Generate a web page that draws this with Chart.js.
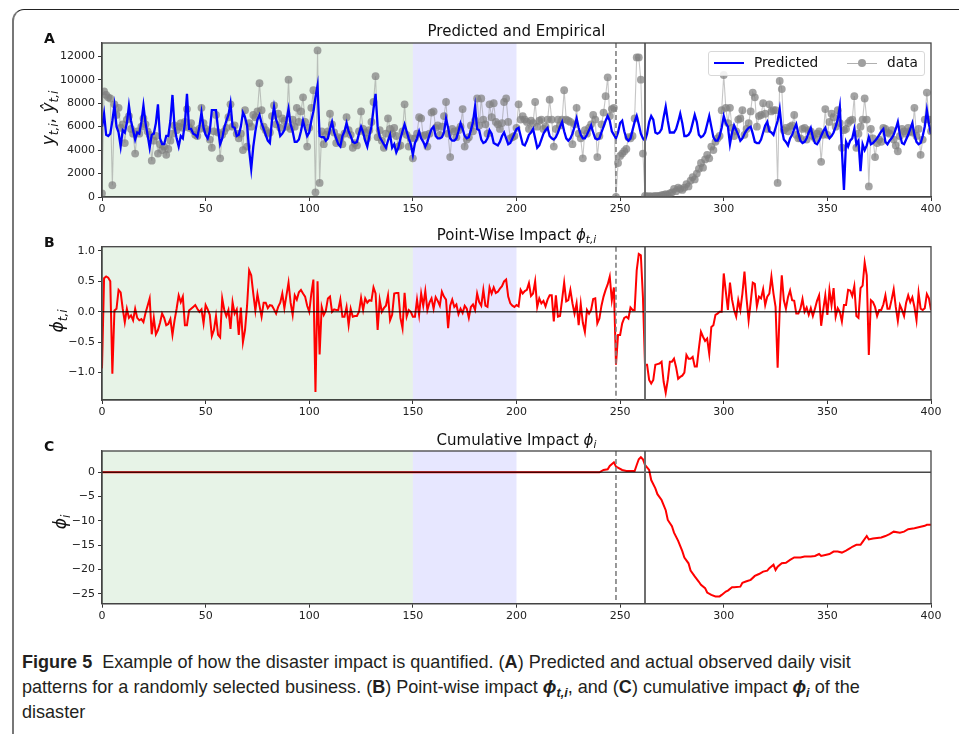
<!DOCTYPE html>
<html>
<head>
<meta charset="utf-8">
<script src="https://cdn.jsdelivr.net/npm/chart.js@4.4.0/dist/chart.umd.min.js"></script>
<style>
body{margin:0;background:#fff;width:959px;height:734px;overflow:hidden;position:relative;font-family:"DejaVu Sans",sans-serif;color:#111;}
.frame{position:absolute;left:12px;top:9px;width:1000px;height:760px;border-top:1.5px solid #222;border-left:2px solid #777;border-top-left-radius:12px;border-bottom-left-radius:12px;}
canvas{position:absolute;left:0;}
.ttl{position:absolute;left:102px;width:829px;text-align:center;font-size:15px;line-height:18px;white-space:nowrap;}
.lab{position:absolute;left:44px;font-weight:bold;font-size:14px;line-height:14px;}
.ylab{position:absolute;transform:translate(-50%,-50%) rotate(-90deg);font-size:17px;white-space:nowrap;line-height:20px;}
sub{font-size:70%;vertical-align:-0.3em;line-height:0;}
#legend{position:absolute;left:708px;top:51px;width:215px;height:23px;border:1px solid #d8d8d8;border-radius:3px;background:rgba(255,255,255,0.85);font-size:13.7px;}
#legend span{position:absolute;}
#caption{position:absolute;left:22px;top:649px;font-family:"Liberation Sans",sans-serif;font-size:19px;line-height:25px;color:#231f20;white-space:nowrap;transform-origin:0 0;}
#caption div{display:block;}
</style>
</head>
<body>
<div class="frame"></div>
<canvas id="chartA" width="959" height="225" style="top:0"></canvas>
<canvas id="chartB" width="959" height="200" style="top:225px"></canvas>
<canvas id="chartC" width="959" height="205" style="top:425px"></canvas>

<div class="ttl" style="top:22px">Predicted and Empirical</div>
<div class="ttl" style="top:226px">Point-Wise Impact <i>ϕ</i><sub><i>t,i</i></sub></div>
<div class="ttl" style="top:431px">Cumulative Impact <i>ϕ</i><sub><i>i</i></sub></div>
<div class="lab" style="top:31px">A</div>
<div class="lab" style="top:235px">B</div>
<div class="lab" style="top:439px">C</div>
<div class="ylab" style="left:48px;top:118px"><i>y</i><sub><i>t,i</i></sub>, <i>ŷ</i><sub><i>t,i</i></sub></div>
<div class="ylab" style="left:57px;top:321px"><i>ϕ</i><sub><i>t,i</i></sub></div>
<div class="ylab" style="left:60px;top:522px"><i>ϕ</i><sub><i>i</i></sub></div>

<div id="legend">
  <span style="left:5px;top:10px;width:30px;height:2px;background:#0000ff"></span>
  <span style="left:45px;top:2px">Predicted</span>
  <span style="left:138px;top:10.5px;width:30px;height:1px;background:#b0b0b0"></span>
  <span style="left:149px;top:7px;width:8px;height:8px;border-radius:50%;background:#a0a0a0"></span>
  <span style="left:178px;top:2px">data</span>
</div>

<div id="caption">
  <div id="capLine1"><b>Figure 5</b>&nbsp; Example of how the disaster impact is quantified. (<b>A</b>) Predicted and actual observed daily visit</div>
  <div>patterns for a randomly selected business. (<b>B</b>) Point-wise impact <b><i>ϕ</i><sub><i>t,i</i></sub></b>, and (<b>C</b>) cumulative impact <b><i>ϕ</i><sub><i>i</i></sub></b> of the</div>
  <div>disaster</div>
</div>

<script>
// predicted daily visits, one row per week (days 0..400)
const predicted = [
  6000,7100,5300,5200,5400,6500,7800,
  6000,5500,4300,5700,5500,6300,7800,
  6500,5700,4900,5500,5400,6400,7800,
  6300,5300,4200,5300,5400,6300,7900,
  5000,4500,4500,5200,5200,6500,8700,
  6000,5000,4300,5200,5000,6300,8800,
  5800,5800,5400,5300,5100,6000,7200,
  5900,5300,5000,5600,7400,7400,7400,
  5800,4500,5000,5900,6500,7000,8000,
  6000,5900,5200,5300,6000,7200,6800,
  6100,4000,2400,4300,5600,6600,7000,
  6300,5800,5300,4800,4600,6500,7700,
  6600,6100,5200,5400,5700,6500,7500,
  6200,5600,4700,4700,4900,5600,6500,
  5800,5200,5500,6500,7300,8500,9500,
  5200,5100,5100,4800,5000,5800,6400,
  5500,5000,4500,4300,5200,5600,6300,
  5600,5200,4700,4600,4700,5400,6000,
  5500,4800,4300,5200,6000,7500,8800,
  6000,5100,4800,4500,4200,4800,5300,
  4200,4500,3800,4200,5000,5600,6200,
  5600,5000,4500,3600,4600,5000,5600,
  5000,4700,4300,4700,5300,5800,6000,
  5200,5000,5000,5100,5500,6700,5900,
  5000,4800,4800,5000,5600,6300,5800,
  5200,5000,5100,5700,6400,7700,5800,
  5700,4900,4600,4700,5000,5700,5400,
  4600,4500,4400,4700,5200,5500,5000,
  4500,4600,5000,5400,5800,5900,5200,
  4500,4400,4800,5300,5500,5800,5000,
  4200,4400,4900,5400,5700,5900,5200,
  5000,4900,5100,5500,6000,6400,5600,
  5000,4800,5000,5400,6000,6700,5900,
  5300,5000,5000,5300,5700,6100,5500,
  5000,4900,5000,5500,6000,6500,6900,
  6500,5600,5300,5000,5500,6300,6500,
  5600,5000,4800,5000,5700,6400,6900,
  6200,5400,5000,4800,5400,6400,6900,
  6600,5500,5400,5500,5800,6800,7700,
  6500,5500,5500,5500,5800,6400,7100,
  6300,5200,5200,5300,5600,6300,7000,
  6400,5300,5100,5200,5500,6200,6900,
  6000,5100,4800,4800,5200,5900,6900,
  6300,6000,4500,5500,6100,5700,5300,
  4800,5000,5400,5700,5900,6000,5400,
  4700,4600,4600,4900,5500,6100,6400,
  5600,5500,5300,5900,6500,7500,5800,
  4900,4700,4400,5000,5300,5800,6200,
  5400,4800,4600,4700,5000,5500,5900,
  5100,4600,4500,4800,5200,5600,5900,
  5300,5000,5200,5500,6000,6600,7700,
  4000,600,4700,4300,4800,5000,5800,
  4500,4800,2200,4500,4000,4400,5100,
  4500,4600,4800,5000,5300,5600,5800,
  4700,4500,4800,5000,5300,5800,6400,
  5300,4600,4500,4900,5300,5800,6300,
  5300,4700,4500,4600,5200,6000,7400,
  6200,5400
];

// observed daily visits (data)
const observed = [
  300,9000,8700,8500,8400,1000,7900,
  7000,7600,5900,6200,4600,6600,6900,
  5800,5400,3700,5600,5400,6000,6700,
  6200,5600,5300,3100,4800,5200,3700,
  4500,4000,4300,3600,4100,4800,5400,
  6100,5700,6000,6300,5900,6400,7500,
  5900,6300,5700,5300,5200,5800,7600,
  6300,5800,5600,4900,4200,5600,7000,
  5500,3300,5300,5600,5900,6800,7900,
  6000,6100,5400,5000,5400,4000,7400,
  4300,6300,6000,7000,6800,7300,9700,
  7400,6000,5700,5400,5500,6900,7800,
  6200,7100,5900,6700,6500,6000,10000,
  5800,6600,6000,7600,6400,7300,8500,
  6400,4300,5900,7600,9100,400,12500,
  1200,5600,4500,5300,5600,7100,6200,
  5500,4600,5100,5000,4500,5400,6800,
  5700,5300,4200,4600,4400,5600,7300,
  5800,5500,5000,5700,6400,8100,10300,
  5100,5700,4800,4200,5400,6700,5800,
  5400,5900,5200,4300,4400,5600,7900,
  5300,4300,5000,3300,5000,5400,6800,
  6700,5200,5300,4300,5400,7200,7300,
  5900,6100,5300,6000,6900,8100,5400,
  3400,5800,5600,5100,5700,6000,7500,
  4300,4900,5100,6100,5600,6500,8400,
  6100,8400,6600,6200,5400,7900,6800,
  8000,6400,6200,5800,6300,8100,8400,
  6400,5000,5100,5200,5900,7900,6600,
  6900,6600,6400,5800,6500,6300,8100,
  6000,6500,6600,5800,6000,6600,8300,
  6600,4300,5800,6600,6100,6600,9100,
  6600,6500,6400,4500,6200,7600,5400,
  5000,3300,5700,5400,5900,6200,7000,
  6600,3400,5200,6200,7200,8600,10200,
  6900,7500,7600,0,2900,3500,3700,
  3900,4100,5100,5000,5200,6700,11900,
  11900,10000,3700,100,50,80,60,
  50,100,80,100,150,170,250,
  200,300,400,680,500,800,700,
  600,800,1100,900,1400,1700,1500,
  2000,2400,2900,2500,3200,3600,3300,
  4300,4000,4700,5000,5200,7400,10400,
  7600,6300,7600,5900,5200,5600,6600,
  6700,7400,5300,5800,6300,7300,8900,
  8500,6000,6900,7000,8000,7100,5800,
  7900,7300,7400,7400,1200,9900,9200,
  5700,5900,5600,6000,6100,7000,5300,
  5000,5000,5800,5900,4900,5700,5600,
  5200,5000,5400,5600,3000,5300,7500,
  5300,6400,7100,6800,6000,7400,6300,
  4200,5700,5800,6300,6500,6600,8600,
  4200,5400,6000,6600,8400,6600,900,
  5800,5000,3400,4600,4900,4700,5900,
  5800,5500,5400,5700,4900,4400,3900,
  5200,5800,5600,5400,5900,5600,5500,
  7600,5200,5800,3600,4900,6600,8900,
  6600,5600
];

// point-wise impact phi_{t,i}
const impact = [
  -0.93,0.55,0.58,0.56,0.5,-1.02,0.02,
  0.05,0.36,0.32,0.05,-0.17,0.05,-0.1,
  -0.06,-0.14,0.05,-0.1,-0.14,-0.12,-0.17,
  -0.02,0.1,0.22,-0.37,-0.1,-0.37,-0.3,
  -0.18,-0.03,-0.1,-0.22,-0.2,-0.12,-0.38,
  -0.14,0.05,0.27,0.16,0.25,-0.22,-0.22,
  0.02,0.05,0.08,0.11,0.05,0,0.04,
  -0.19,0.11,0.04,-0.05,-0.4,-0.3,-0.07,
  -0.38,-0.42,0.22,0.03,-0.07,0.03,-0.28,
  0.16,-0.03,0.04,-0.38,0.07,-0.5,-0.3,
  0.1,0.68,0.6,0.3,0.02,0.29,0.1,
  -0.08,0.15,0.15,0.06,0.11,0.1,0.04,
  -0.03,0.08,0.15,0.3,0.06,0.27,0.48,
  0.15,-0.05,0.27,0.2,0.32,0.36,0.3,
  0.25,0.1,0,0.3,0.53,-1.32,0.5,
  -0.7,0.08,-0.05,0.02,0.22,0.25,0,
  0.04,0.03,0.03,0.2,-0.08,-0.08,0.08,
  -0.22,0.05,-0.08,-0.07,-0.07,0,0.23,
  0.03,0.22,0.15,0.19,0.18,0.4,0.3,
  -0.3,0.19,0,0.06,0.1,0.27,-0.14,
  -0.05,0.3,0.31,0.31,-0.1,-0.27,0.31,
  -0.08,0.03,0,-0.08,-0.08,0.2,-0.05,
  0.3,0.1,0.34,0.03,0.15,0.22,0.05,
  0.24,0.18,0.1,0.33,0.25,0.2,-0.27,
  0.1,0.2,0.08,0.12,-0.04,0.05,-0.02,
  0.1,0.05,-0.1,0.08,0.12,0.03,0.3,
  0.16,0.1,0.36,0.1,0.08,0.4,0.3,
  0.4,0.31,0.33,0.38,0.42,0.5,0.53,
  0.25,0.14,0.1,0.08,0.11,0.09,0.36,
  0.3,0.34,0.36,0.47,0.26,0.3,0.5,
  0.08,0.22,0.14,0.18,0.09,0.2,0.27,
  0.27,-0.16,0.27,-0.08,-0.07,0.2,0.48,
  0.17,0.19,0.36,0.14,-0.03,0.14,-0.22,
  0.13,-0.18,-0.33,0.03,-0.03,0.03,0.21,
  0.22,-0.19,-0.11,0.1,0.25,0.36,0.45,
  0.58,0.19,0.4,-0.87,-0.38,-0.38,-0.19,
  -0.1,-0.08,-0.11,0.07,0.03,0.03,0.68,
  0.95,0.93,0.25,-0.87,-0.87,-1.12,-1.18,
  -1.12,-0.87,-0.86,-0.85,-0.82,-1.15,-1.33,
  -1.12,-0.82,-0.82,-0.77,-0.91,-1.1,-1.07,
  -1.05,-1,-0.71,-0.77,-0.77,-0.74,-0.9,
  -0.9,-0.6,-0.33,-0.41,-0.48,-0.44,-0.69,
  -0.25,-0.22,-0.05,-0.03,0,0,0.63,
  0.33,0.03,0.48,0.2,0.03,-0.08,0.19,
  0.03,0.3,0.66,0.22,-0.14,0.16,0.48,
  0.46,0.09,0.25,0.22,0.37,0.11,0.25,
  0.3,0.58,0.3,0.08,-0.92,0.03,0.6,
  0.19,0.05,0.24,0.35,0.19,0.18,-0.03,
  -0.03,0.05,0.21,0,0.07,-0.05,0.06,
  -0.07,0.05,0.18,0.27,-0.23,0.03,0.27,
  -0.05,0.36,0.11,0.39,-0.08,0.06,0,
  -0.16,0.11,0.11,0.36,0.35,0.26,0.42,
  -0.07,-0.1,0.39,0.43,0.81,0.6,-0.71,
  0.19,0.16,0.08,-0.07,0.03,0.03,0.12,
  0.27,0.05,0.05,0.2,0.37,0.08,-0.15,
  0.11,0.03,-0.07,0.15,0.27,0.16,0.24,
  0.08,-0.14,0.31,0.05,0.03,0.06,0.29,
  0.22,0.03
];

// cumulative impact phi_i, read at these days
const cumDays = [0,240,242,244,245,247,248,251,253,257,258,259,260,261,262,264,265,267,268,270,272,273,275,276,278,280,281,283,284,286,288,289,291,292,294,296,298,299,301,302,304,305,308,309,311,313,315,317,319,321,322,324,325,326,328,330,332,334,337,339,342,344,346,347,349,351,353,355,357,359,361,362,364,366,367,369,370,372,376,378,380,382,385,387,389,392,394,397,398,400];
const cumImpact = [0,0,0.48,0.6,1.3,2.05,1.16,0.48,0.27,0.27,1.5,2.67,3.1,2.67,1.5,0.48,-1.6,-3.3,-4.5,-5.7,-7.8,-9.8,-11.1,-12.4,-14.1,-16.2,-17.5,-18.7,-20.2,-21.4,-22.5,-23.1,-23.8,-24.7,-25.2,-25.5,-25.5,-25.2,-24.5,-24.3,-23.6,-23.6,-23.5,-22.7,-22.4,-22.1,-21.3,-20.9,-20.4,-20.2,-19.7,-19,-20.1,-19.4,-18.7,-18.6,-18,-17.5,-17.5,-17.3,-17.3,-17.2,-16.8,-17.2,-17,-16.8,-16.3,-16.3,-16.5,-16.1,-15.6,-15.3,-14.9,-14.9,-14.3,-13.1,-13.8,-13.6,-13.4,-13.1,-12.7,-12.2,-12.4,-12.2,-11.7,-11.5,-11.3,-11,-10.8,-10.8];

const xTicks = [0,50,100,150,200,250,300,350,400];
const yTicksA = [0,2000,4000,6000,8000,10000,12000];
const yTicksB = [-1,-0.5,0,0.5,1];
const yTicksC = [-25,-20,-15,-10,-5,0];
const spans = [[0,150,'rgba(0,128,0,0.095)'],[150,200,'rgba(0,0,255,0.095)']];
const eventDays = [248,262];

const toXY = arr => arr.map((v,i) => ({x:i, y:v}));
const minus = s => String(s).replace('-', '\u2212');

const decor = {
  id:'decor',
  beforeDatasetsDraw(chart){
    const {ctx, chartArea:a, scales:{x}} = chart;
    ctx.save();
    spans.forEach(([s,e,c]) => {
      const p0 = x.getPixelForValue(s), p1 = x.getPixelForValue(e);
      ctx.fillStyle = c;
      ctx.fillRect(p0, a.top, p1-p0, a.bottom-a.top);
    });
    ctx.restore();
  },
  afterDatasetsDraw(chart, args, opts){
    const {ctx, chartArea:a, scales:{x,y}} = chart;
    ctx.save();
    if (opts.zero) {
      const py = y.getPixelForValue(0);
      ctx.strokeStyle = 'rgba(0,0,0,0.72)'; ctx.lineWidth = 1.4;
      ctx.beginPath(); ctx.moveTo(a.left,py); ctx.lineTo(a.right,py); ctx.stroke();
    }
    // dashed line at first event, solid at second
    let px = x.getPixelForValue(eventDays[0]);
    ctx.strokeStyle = '#7f7f7f'; ctx.lineWidth = 1.6; ctx.setLineDash([5,3]);
    ctx.beginPath(); ctx.moveTo(px,a.top); ctx.lineTo(px,a.bottom); ctx.stroke();
    px = x.getPixelForValue(eventDays[1]);
    ctx.strokeStyle = '#6f6f6f'; ctx.lineWidth = 2; ctx.setLineDash([]);
    ctx.beginPath(); ctx.moveTo(px,a.top); ctx.lineTo(px,a.bottom); ctx.stroke();
    ctx.strokeStyle = '#444'; ctx.lineWidth = 1.3;
    ctx.strokeRect(a.left, a.top, a.right-a.left, a.bottom-a.top);
    ctx.restore();
  }
};

function makeChart(id, datasets, yMin, yMax, yTicks, fmt, pad, zero){
  return new Chart(document.getElementById(id), {
    type:'line',
    data:{datasets:datasets},
    options:{
      responsive:false, animation:false, devicePixelRatio:1, events:[],
      layout:{padding:pad},
      plugins:{legend:{display:false}, tooltip:{enabled:false}, decor:{zero:zero}},
      scales:{
        x:{type:'linear', min:0, max:400,
           afterBuildTicks: s => { s.ticks = xTicks.map(v => ({value:v})); },
           afterFit: s => { s.height = 22; },
           ticks:{color:'#222', font:{family:'DejaVu Sans', size:11}, padding:2, maxRotation:0, autoSkip:false},
           grid:{drawOnChartArea:false, tickLength:4, tickColor:'#333'},
           border:{color:'#444', width:1.3}},
        y:{min:yMin, max:yMax,
           afterBuildTicks: s => { s.ticks = yTicks.map(v => ({value:v})); },
           afterFit: s => { s.width = 102; },
           ticks:{color:'#222', font:{family:'DejaVu Sans', size:11}, padding:3, autoSkip:false, callback:fmt},
           grid:{drawOnChartArea:false, tickLength:4, tickColor:'#333'},
           border:{color:'#444', width:1.3}}
      }
    },
    plugins:[decor]
  });
}

makeChart('chartA', [
  {label:'Predicted', data:toXY(predicted), borderColor:'#0000ff', borderWidth:2.3, pointRadius:0, tension:0},
  {label:'data', data:toXY(observed), borderColor:'rgba(128,128,128,0.45)', borderWidth:1.1,
   pointRadius:3.9, pointBackgroundColor:'rgba(128,128,128,0.72)', pointBorderWidth:0, tension:0}
], 0, 13130, yTicksA, v => String(v), {left:0, right:28, top:43, bottom:6}, false);

makeChart('chartB', [
  {label:'impact', data:toXY(impact), borderColor:'#ff0000', borderWidth:2, pointRadius:0, tension:0}
], -1.45, 1.07, yTicksB, v => minus(v.toFixed(1)), {left:0, right:28, top:21.7, bottom:3}, true);

makeChart('chartC', [
  {label:'cumulative', data:cumDays.map((d,i) => ({x:d, y:cumImpact[i]})), borderColor:'#ff0000', borderWidth:2, pointRadius:0, tension:0}
], -27.0, 4.37, yTicksC, v => minus(v), {left:0, right:28, top:26, bottom:4.3}, true);

// squeeze the caption horizontally so the first line spans like the printed one
const cap = document.getElementById('caption');
const w1 = document.getElementById('capLine1').scrollWidth;
cap.style.transform = 'scaleX(' + (838 / w1) + ')';
</script>
</body>
</html>
